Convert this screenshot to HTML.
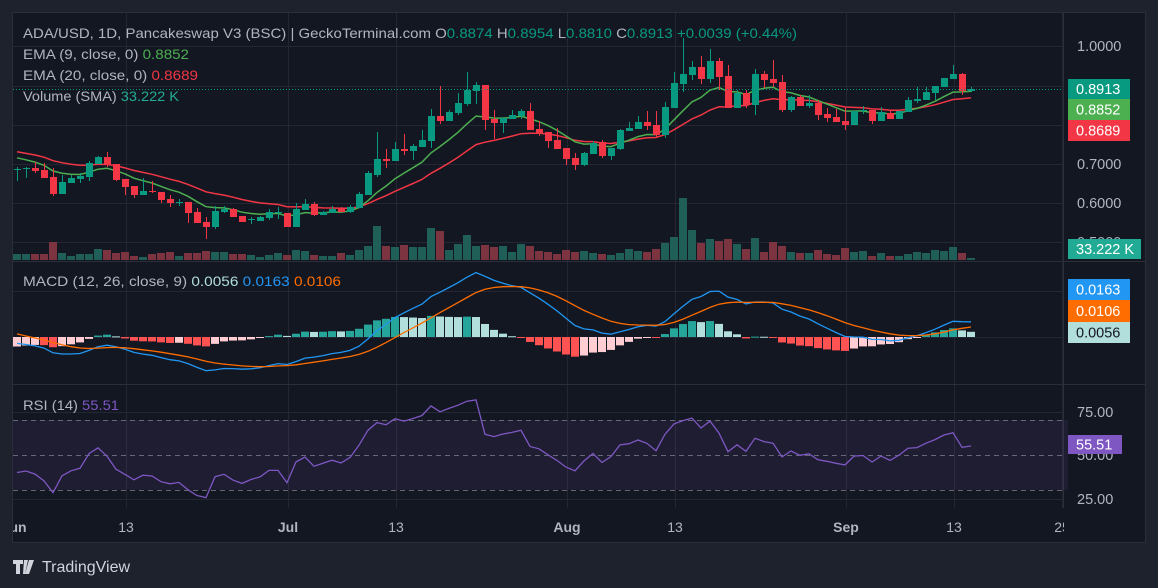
<!DOCTYPE html>
<html><head><meta charset="utf-8">
<style>
html,body{margin:0;padding:0;background:#1e222d;width:1158px;height:588px;overflow:hidden}
svg{display:block}
text{font-family:"Liberation Sans",sans-serif}
</style></head>
<body>
<svg id="s" width="1158" height="588" xmlns="http://www.w3.org/2000/svg">
<rect x="0" y="0" width="1158" height="588" fill="#1e222d"/>
<rect x="12.5" y="12.5" width="1133" height="530" fill="#131722" stroke="#2a2e39"/>
<g id="grid"></g>
<g id="plot"></g>
<g id="labels"></g>
</svg>
<script>
const NS="http://www.w3.org/2000/svg";
const G=document.getElementById('grid'),P=document.getElementById('plot'),L=document.getElementById('labels');
function el(p,t,a,txt){const e=document.createElementNS(NS,t);for(const k in a)e.setAttribute(k,a[k]);if(txt!==undefined)e.textContent=txt;p.appendChild(e);return e;}
const D=[[170,169,167,181],[169,168,167,178],[168,171,162,173],[170,178,163,178],[177,194,168,196],[194,182,175,194],[183,178,175,183],[179,176,173,183],[177,163,161,181],[164,157,156,164],[157,165,152,167],[164,180,164,181],[179,187,179,195],[186,195,186,198],[195,191,178,195],[191,192,181,193],[192,200,192,203],[199,203,195,207],[203,202,199,206],[202,213,202,223],[212,223,208,223],[222,227,217,239],[227,211,206,229],[212,209,206,213],[209,217,208,217],[216,222,216,222],[220,219,217,224],[221,217,216,221],[218,212,209,220],[213,212,207,219],[213,227,213,227],[227,209,203,227],[210,204,199,210],[204,215,202,216],[215,212,211,215],[213,209,206,213],[209,212,207,212],[212,207,205,213],[208,194,192,208],[195,173,171,195],[175,159,132,177],[159,161,149,168],[161,149,142,161],[149,151,134,155],[151,146,144,160],[147,140,130,147],[141,116,109,148],[116,121,86,124],[121,112,110,121],[113,103,93,115],[104,90,72,106],[91,85,82,104],[85,120,85,130],[119,123,110,139],[123,118,118,133],[119,115,110,119],[116,111,109,119],[111,130,103,130],[129,133,121,136],[132,141,132,148],[140,149,128,149],[148,159,148,165],[158,165,153,170],[165,153,152,166],[154,143,141,154],[142,156,140,158],[156,148,148,160],[149,130,129,150],[131,128,122,131],[129,122,116,129],[122,126,111,130],[125,135,111,137],[135,107,102,138],[108,83,72,108],[84,74,38,92],[75,67,61,80],[67,79,56,84],[79,61,49,83],[61,77,58,90],[76,108,65,108],[108,93,90,108],[93,105,90,108],[105,74,69,115],[74,80,71,88],[79,83,60,87],[82,110,75,112],[110,97,96,112],[97,106,95,106],[106,103,95,108],[103,115,100,120],[114,118,108,122],[117,122,109,122],[121,125,107,130],[125,111,111,125],[110,110,106,114],[110,121,110,124],[121,112,107,121],[113,119,111,119],[119,111,111,119],[112,100,97,112],[101,99,87,103],[100,92,87,100],[93,86,86,100],[87,78,78,87],[79,74,65,79],[74,91,73,95],[91,89,87,92]];
const V=[254,254,254,254,242,253,256,254,254,249,250,253,252,256,257,254,253,252,256,253,253,251,252,252,254,254,255,257,255,253,255,250,251,255,256,256,253,255,250,246,226,246,247,245,247,247,228,231,250,244,235,246,245,247,246,252,244,246,251,252,254,250,252,251,253,254,255,253,249,251,252,249,243,237,198,230,243,239,241,239,244,249,238,252,242,246,252,253,253,250,254,255,248,252,251,256,253,256,256,254,252,253,250,251,247,253,258];
const X=i=>17+9*i;
const UP='#089981',DN='#f23645';
const gc='#242733';
[46,86,125,164,203,242,291,337,412,499].forEach(y=>el(G,'line',{x1:13,x2:1063,y1:y+.5,y2:y+.5,stroke:gc}));
[126,288,396,567,675,846,954,1062].forEach(x=>el(G,'line',{x1:x+.5,x2:x+.5,y1:13,y2:508,stroke:gc}));
el(G,'line',{x1:13,x2:1145,y1:261.5,y2:261.5,stroke:'#2a2e39'});
el(G,'line',{x1:13,x2:1145,y1:384.5,y2:384.5,stroke:'#2a2e39'});
el(G,'line',{x1:1063.5,x2:1063.5,y1:13,y2:508,stroke:'#2a2e39'});
el(G,'rect',{x:13,y:420,width:1055,height:70,fill:'rgba(126,87,194,0.1)'});
[420,455,490].forEach(y=>el(G,'line',{x1:13,x2:1063,y1:y+.5,y2:y+.5,stroke:'#787b86','stroke-dasharray':'5,4','stroke-width':1,opacity:.8}));
D.forEach((d,i)=>{const up=d[1]<=d[0];el(P,'rect',{x:X(i)-4,y:V[i],width:8,height:260-V[i],fill:up?'#1f5f58':'#7c3540'});});
let e9=155,e20=150;const E9=[],E20=[];
D.forEach(d=>{e9=e9+(d[1]-e9)*2/10;e20=e20+(d[1]-e20)*2/21;E9.push(e9);E20.push(e20);});
el(P,'polyline',{points:E20.map((v,i)=>X(i)+','+v.toFixed(1)).join(' '),fill:'none',stroke:'#f23645','stroke-width':1.5});
el(P,'polyline',{points:E9.map((v,i)=>X(i)+','+v.toFixed(1)).join(' '),fill:'none',stroke:'#4caf50','stroke-width':1.5});
D.forEach((d,i)=>{const up=d[1]<=d[0];const c=up?UP:DN;const x=X(i);
el(P,'line',{x1:x+.5,x2:x+.5,y1:d[2],y2:d[3],stroke:c});
const t=Math.min(d[0],d[1]),h=Math.max(1,Math.abs(d[0]-d[1]));
el(P,'rect',{x:x-3,y:t,width:7,height:h,fill:c});});
el(P,'line',{x1:13,x2:1063,y1:89.5,y2:89.5,stroke:'#089981','stroke-dasharray':'1,2'});
const pr=y=>1-(y-46)/392;
let a12=0.715,a26=0.720,sg=0.006;let ag=0.006,al=0.009;let prev=pr(169);
const M=[],S=[],H=[],R=[];
D.forEach((d,i)=>{const p=pr(d[1]);a12+= (p-a12)*2/13;a26+=(p-a26)*2/27;const m=a12-a26;sg+=(m-sg)*2/10;M.push(m);S.push(sg);H.push(m-sg);
const ch=p-prev;prev=p;ag=(ag*13+Math.max(ch,0))/14;al=(al*13+Math.max(-ch,0))/14;R.push(100-100/(1+ag/al));});
const my=v=>337-v*920;
H.forEach((h,i)=>{const pv=i?H[i-1]:h;let c;if(h>=0)c=h>=pv?'#26a69a':'#b2dfdb';else c=h<pv?'#ff5252':'#ffcdd2';
const y0=337,y1=my(h);el(P,'rect',{x:X(i)-4,y:Math.min(y0,y1),width:8,height:Math.max(1,Math.abs(y1-y0)),fill:c});});
el(P,'polyline',{points:M.map((v,i)=>X(i)+','+my(v).toFixed(1)).join(' '),fill:'none',stroke:'#2196f3','stroke-width':1.3});
el(P,'polyline',{points:S.map((v,i)=>X(i)+','+my(v).toFixed(1)).join(' '),fill:'none',stroke:'#ff6d00','stroke-width':1.3});
el(P,'polyline',{points:R.map((v,i)=>X(i)+','+(455-(v-50)*1.75).toFixed(1)).join(' '),fill:'none',stroke:'#7e57c2','stroke-width':1.3});
const ac='#b2b5be';
[[46,'1.0000'],[164,'0.7000'],[203,'0.6000'],[242,'0.5000'],[412,'75.00'],[499,'25.00'],[455,'50.00']].forEach(a=>el(L,'text',{x:1077,y:a[0]+5,fill:ac,'font-size':14.5},a[1]));
function box(y,h,w,fill,txt,tc){el(L,'rect',{x:1068,y:y,width:w,height:h,fill:fill});el(L,'text',{x:1076,y:y+h/2+5,fill:tc||'#fff','font-size':14.5},txt);}
box(79,20,62,'#089981','0.8913');box(99,21,62,'#4caf50','0.8852');box(120,21,62,'#f23645','0.8689');
box(239,20,73,'#22ab94','33.222 K');
box(279,21,62,'#2196f3','0.0163');box(300,22,62,'#ff6d00','0.0106');box(322,21,62,'#b2dfdb','0.0056','#131722');
box(435,19,54,'#7e57c2','55.51');
[[18,'un',1],[126,'13'],[288,'Jul',1],[396,'13'],[567,'Aug',1],[675,'13'],[846,'Sep',1],[954,'13'],[1062,'25']].forEach(t=>el(L,'text',{x:t[0],y:532,fill:ac,'font-size':14,'text-anchor':'middle','font-weight':t[2]?'bold':'normal'},t[1]));
el(L,'rect',{x:0,y:508,width:13,height:30,fill:'#1e222d'});
el(L,'rect',{x:1064,y:509,width:81,height:33,fill:'#131722'});
el(L,'line',{x1:12.5,x2:12.5,y1:508,y2:543,stroke:'#2a2e39'});
function leg(y,w,parts){const t=el(L,'text',{x:23,y:y,'font-size':14,textLength:w,lengthAdjust:'spacingAndGlyphs'});parts.forEach(p=>{el(t,'tspan',{fill:p[1]},p[0]);});}
leg(38,774,[['ADA/USD, 1D, Pancakeswap V3 (BSC) | GeckoTerminal.com  ',ac],['O',ac],['0.8874  ',UP],['H',ac],['0.8954  ',UP],['L',ac],['0.8810  ',UP],['C',ac],['0.8913  ',UP],['+0.0039 (+0.44%)',UP]]);
leg(59,166,[['EMA (9, close, 0)  ',ac],['0.8852','#4caf50']]);
leg(80,175,[['EMA (20, close, 0)  ',ac],['0.8689','#f23645']]);
leg(101,156,[['Volume (SMA)  ',ac],['33.222 K','#22ab94']]);
leg(286,318,[['MACD (12, 26, close, 9)  ',ac],['0.0056  ','#b2dfdb'],['0.0163  ','#2196f3'],['0.0106','#ff6d00']]);
leg(410,96,[['RSI (14)  ',ac],['55.51','#7e57c2']]);
el(L,'path',{d:'M13 560h10v4h-3v10h-4v-10h-3z M24 560h4l-3 14h-2z M29 560h5l-5 14h-4z',fill:'#d1d4dc'});
el(L,'text',{x:42,y:572,fill:'#d1d4dc','font-size':16},'TradingView');
</script>
</body></html>
